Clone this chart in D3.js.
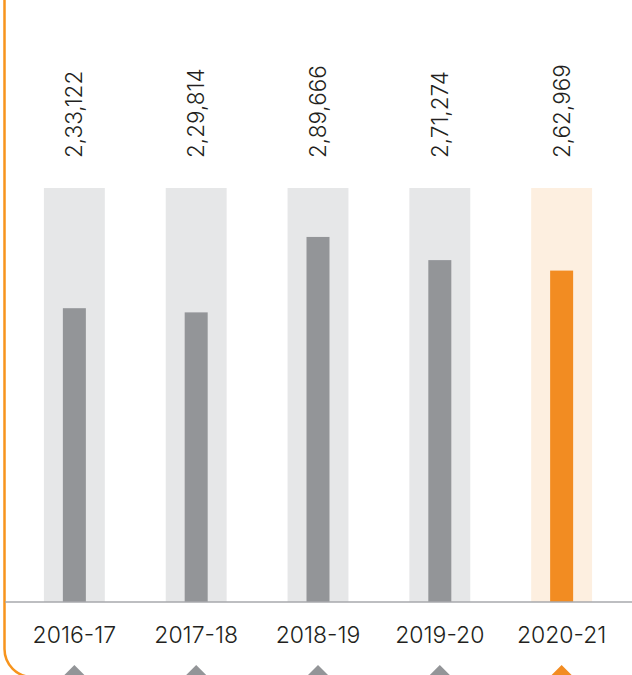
<!DOCTYPE html>
<html>
<head>
<meta charset="utf-8">
<script src="https://cdn.jsdelivr.net/npm/d3@7"></script>
<style>
  html, body { margin: 0; padding: 0; background: #fff; }
  svg { display: block; }
  text { font-family: "Inter", "Noto Sans", sans-serif; font-weight: 300; fill: #231f20; }
</style>
</head>
<body>
<svg id="chart" width="632" height="675"></svg>
<script>
const categories = ["2016-17", "2017-18", "2018-19", "2019-20", "2020-21"];
const values = [233122, 229814, 289666, 271274, 262969];
const valueLabels = ["2,33,122", "2,29,814", "2,89,666", "2,71,274", "2,62,969"];
const highlight = ["2020-21"];
const yMax = 328500;

const W = 632, H = 675;
const baseY = 602, topY = 188;
const svg = d3.select("#chart");

const x = d3.scaleBand().domain(categories).range([-17, 653]).paddingInner(0.5).paddingOuter(0.5);
const y = d3.scaleLinear().domain([0, yMax]).range([baseY, topY]);
const innerW = 23;

const isHi = c => highlight.includes(c);

// frame (orange border, left + rounded bottom-left)
const R = 28, lx = 4.5, by = 677;
svg.append("path")
  .attr("d", `M${lx},-5 V${by - R} A${R},${R} 0 0 0 ${lx + R},${by} H${W + 5}`)
  .attr("fill", "none").attr("stroke", "#f7941d").attr("stroke-width", 2.5);

// background bars
svg.selectAll("rect.bg").data(categories).join("rect")
  .attr("class", "bg")
  .attr("x", d => x(d)).attr("width", x.bandwidth())
  .attr("y", y(yMax)).attr("height", y(0) - y(yMax))
  .attr("fill", d => isHi(d) ? "#fdefe0" : "#e6e7e8");

// value bars
svg.selectAll("rect.val").data(categories).join("rect")
  .attr("class", "val")
  .attr("x", d => x(d) + x.bandwidth() / 2 - innerW / 2).attr("width", innerW)
  .attr("y", (d, i) => y(values[i])).attr("height", (d, i) => y(0) - y(values[i]))
  .attr("fill", d => isHi(d) ? "#f28c22" : "#939598");

// axis line
svg.append("line").attr("x1", 5).attr("x2", W).attr("y1", baseY).attr("y2", baseY)
  .attr("stroke", "#a7a9ac").attr("stroke-width", 1.5);

// value labels
svg.selectAll("text.vl").data(categories).join("text")
  .attr("class", "vl")
  .attr("transform", d => `translate(${x(d) + x.bandwidth() / 2},158) rotate(-90)`)
  .attr("dy", "0.36em")
  .attr("text-anchor", "start")
  .attr("font-size", 22.5)
  .text((d, i) => valueLabels[i]);

// category labels
svg.selectAll("text.cat").data(categories).join("text")
  .attr("class", "cat")
  .attr("x", d => x(d) + x.bandwidth() / 2).attr("y", 643)
  .attr("text-anchor", "middle").attr("font-size", 23)
  .text(d => d);

// triangles
svg.selectAll("path.tri").data(categories).join("path")
  .attr("class", "tri")
  .attr("d", d => { const c = x(d) + x.bandwidth() / 2; return `M${c},665 L${c + 13},678 L${c - 13},678 Z`; })
  .attr("fill", d => isHi(d) ? "#f28c22" : "#939598");
</script>
</body>
</html>
